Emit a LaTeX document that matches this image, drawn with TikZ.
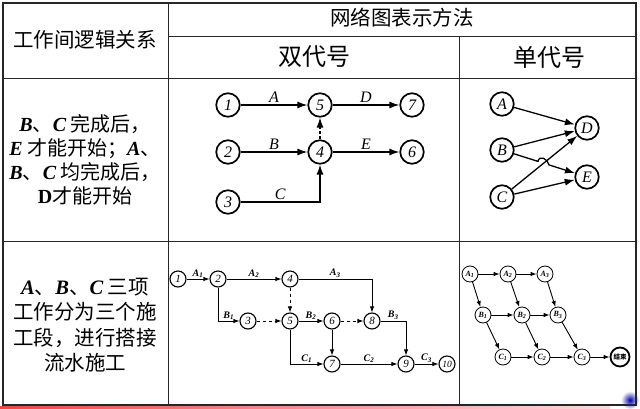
\documentclass[tikz,border=0pt]{standalone}
\usepackage{fontspec}
\setmainfont{Liberation Serif}
\newfontfamily\cjk{Noto Sans CJK SC}
\usetikzlibrary{arrows.meta}
\newcommand\BI[1]{{\rmfamily\bfseries\itshape #1}}
\newcommand\SB[2]{{\bfseries\itshape #1}\textsubscript{\bfseries\itshape #2}}
\begin{document}
\begin{tikzpicture}[x=1pt,y=-1pt,
  frame/.style={line width=0.9pt,black!85},
  tnode/.style={circle,draw,line width=1.7pt,minimum size=23.5pt,inner sep=0pt,font=\fontsize{16}{16}\selectfont\itshape},
  tedge/.style={line width=1.3pt,-{Latex[length=10pt,width=7pt]}},
  tlab/.style={above,inner sep=1.5pt,font=\fontsize{16}{16}\selectfont\itshape},
  bnode/.style={circle,draw,line width=1.1pt,minimum size=16pt,inner sep=0pt,font=\fontsize{11}{11}\selectfont\itshape},
  bedge/.style={line width=0.9pt,-{Latex[length=6pt,width=4.5pt]}},
  blab/.style={above,inner sep=1pt,font=\fontsize{10}{10}\selectfont},
  snode/.style={circle,draw,line width=0.8pt,minimum size=16pt,inner sep=0pt,font=\fontsize{8}{8}\selectfont},
  sedge/.style={line width=0.9pt,-{Latex[length=6pt,width=4.5pt]}},
  cjktext/.style={font=\cjk\fontsize{20}{24}\selectfont,align=center}
]
\useasboundingbox (0,0) rectangle (640,409);
\fill[white] (0,0) rectangle (640,409);
% slide decoration
\fill[left color=red!75, right color=red!15] (0,406.5) rectangle (610,409);
\shade[inner color=blue!70!black, outer color=white] (630,400) circle (9);
% table
\draw[line width=1.3pt,black!85] (3,3) rectangle (636,405);
\draw[frame] (168,3) -- (168,405);
\draw[frame] (459,36) -- (459,405);
\draw[frame] (168,36) -- (636,36);
\draw[frame] (3,78) -- (636,78);
\draw[frame] (3,241) -- (636,241);
% headers
\node[font=\cjk\fontsize{20.5}{20}\selectfont] (h1) at (85,40) {工作间逻辑关系};
\node[font=\cjk\fontsize{20.5}{20}\selectfont] (h2) at (402,18) {网络图表示方法};
\node[font=\cjk\fontsize{24}{24}\selectfont] (h3) at (314,57) {双代号};
\node[font=\cjk\fontsize{24}{24}\selectfont] (h4) at (549,57) {单代号};
% row texts
\node[cjktext] (r1) at (85,160) {\BI{B}、\BI{C} 完成后，\\\BI{E} 才能开始；\BI{A}、\\\BI{B}、\BI{C} 均完成后，\\{\rmfamily\bfseries D}才能开始};
\node[cjktext,font=\cjk\fontsize{20.5}{25.5}\selectfont] (r2) at (85,325) {\BI{A}、\BI{B}、\BI{C} 三项\\工作分为三个施\\工段，进行搭接\\流水施工};
% top double-code network
\node[tnode] (n1) at (228,105) {1};
\node[tnode] (n5) at (320,105) {5};
\node[tnode] (n7) at (412,105) {7};
\node[tnode] (n2) at (228,152) {2};
\node[tnode] (n4) at (320,152) {4};
\node[tnode] (n6) at (412,152) {6};
\node[tnode] (n3) at (228,202) {3};
\draw[tedge] (n1) -- node[tlab] {A} (n5);
\draw[tedge] (n5) -- node[tlab] {D} (n7);
\draw[tedge] (n2) -- node[tlab] {B} (n4);
\draw[tedge] (n4) -- node[tlab] {E} (n6);
\draw[tedge] (n3) -| node[tlab,pos=0.25] {C} (n4);
\draw[tedge,dash pattern=on 3pt off 2pt] (n4) -- (n5);
% top single-code network
\node[tnode] (sA) at (502,104) {A};
\node[tnode] (sB) at (502,150) {B};
\node[tnode] (sC) at (502,197) {C};
\node[tnode] (sD) at (587,128) {D};
\node[tnode] (sE) at (587,177) {E};
\draw[tedge] (sA) -- (sD);
\draw[tedge] (sB) -- (sD);
\draw[tedge] (sC) -- (sD);
\draw[tedge] (sC) -- (sE);
\draw[tedge] (sB) -- (538,161.4) .. controls (539,155) and (548,158.5) .. (549,164.9) -- (sE);
% bottom double-code network
\node[bnode] (b1) at (178,279) {1};
\node[bnode] (b2) at (218,279) {2};
\node[bnode] (b4) at (290,279) {4};
\node[bnode] (b3) at (248,321) {3};
\node[bnode] (b5) at (290,321) {5};
\node[bnode] (b6) at (332,321) {6};
\node[bnode] (b8) at (372,321) {8};
\node[bnode] (b7) at (332,364) {7};
\node[bnode] (b9) at (406,364) {9};
\node[bnode,font=\fontsize{9.5}{9.5}\selectfont\itshape] (b10) at (447,364) {10};
\draw[bedge] (b1) -- node[blab] {\SB{A}{1}} (b2);
\draw[bedge] (b2) -- node[blab] {\SB{A}{2}} (b4);
\draw[bedge] (b4) -| node[blab,pos=0.25] {\SB{A}{3}} (b8);
\draw[bedge] (b2) |- node[blab,pos=0.75] {\SB{B}{1}} (b3);
\draw[bedge,dashed] (b3) -- (b5);
\draw[bedge,dashed] (b4) -- (b5);
\draw[bedge] (b5) -- node[blab] {\SB{B}{2}} (b6);
\draw[bedge,dashed] (b6) -- (b8);
\draw[bedge] (b8) -| node[blab,pos=0.25] {\SB{B}{3}} (b9);
\draw[bedge] (b6) -- (b7);
\draw[bedge] (b5) |- node[blab,pos=0.75] {\SB{C}{1}} (b7);
\draw[bedge] (b7) -- node[blab] {\SB{C}{2}} (b9);
\draw[bedge] (b9) -- node[blab] {\SB{C}{3}} (b10);
% bottom single-code network
\node[snode] (A1) at (470,274) {\SB{A}{1}};
\node[snode] (A2) at (508,274) {\SB{A}{2}};
\node[snode] (A3) at (545,274) {\SB{A}{3}};
\node[snode] (B1) at (483,315) {\SB{B}{1}};
\node[snode] (B2) at (522,315) {\SB{B}{2}};
\node[snode] (B3) at (558,315) {\SB{B}{3}};
\node[snode] (C1) at (503,357) {\SB{C}{1}};
\node[snode] (C2) at (542,357) {\SB{C}{2}};
\node[snode] (C3) at (582,357) {\SB{C}{3}};
\node[snode,line width=1.8pt,minimum size=19pt,font=\cjk\bfseries\fontsize{6.5}{6.5}\selectfont] (end) at (620,357) {结束};
\draw[sedge] (A1) -- (A2);
\draw[sedge] (A2) -- (A3);
\draw[sedge] (B1) -- (B2);
\draw[sedge] (B2) -- (B3);
\draw[sedge] (C1) -- (C2);
\draw[sedge] (C2) -- (C3);
\draw[sedge] (C3) -- (end);
\draw[sedge] (A1) -- (B1);
\draw[sedge] (A2) -- (B2);
\draw[sedge] (A3) -- (B3);
\draw[sedge] (B1) -- (C1);
\draw[sedge] (B2) -- (C2);
\draw[sedge] (B3) -- (C3);
\end{tikzpicture}
\end{document}
